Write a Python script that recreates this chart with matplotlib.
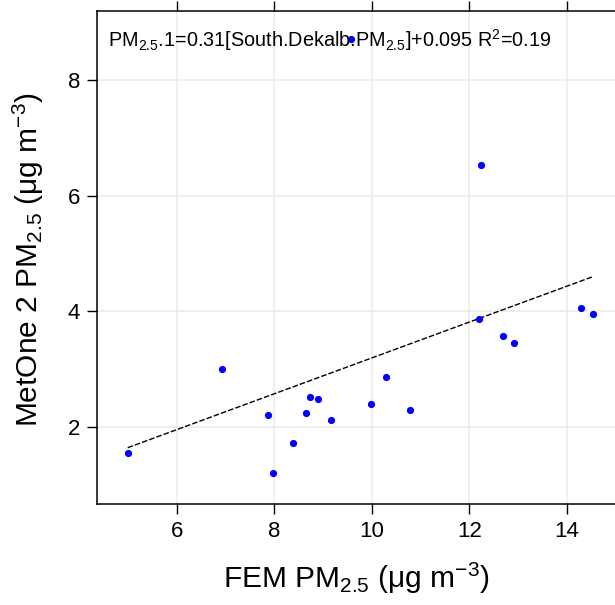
import matplotlib
matplotlib.use("Agg")
import matplotlib.pyplot as plt
import numpy as np

plt.rcParams['font.family'] = ['Liberation Sans', 'DejaVu Sans']
plt.rcParams['mathtext.fontset'] = 'custom'
plt.rcParams['mathtext.rm'] = 'Liberation Sans'
plt.rcParams['mathtext.it'] = 'Liberation Sans:italic'
plt.rcParams['mathtext.default'] = 'regular'

fem = [4.99, 6.93, 7.87, 7.98, 8.38, 8.64, 8.72, 8.90, 9.15, 9.56, 9.98, 10.28,
       10.77, 12.20, 12.23, 12.69, 12.91, 14.28, 14.54]
metone = [1.55, 3.00, 2.21, 1.21, 1.73, 2.24, 2.52, 2.48, 2.12, 8.71, 2.40, 2.86,
          2.29, 3.87, 6.53, 3.58, 3.46, 4.05, 3.96]
slope = 0.31
intercept = 0.095
r2 = 0.19
xticks = [6, 8, 10, 12, 14]
yticks = [2, 4, 6, 8]

W, H = 615, 605
fig = plt.figure(figsize=(W / 100, H / 100), dpi=100)
left_px, right_px, top_px, bottom_px = 97, 625, 11, 504
ax = fig.add_axes([left_px / W, (H - bottom_px) / H,
                   (right_px - left_px) / W, (bottom_px - top_px) / H])

ax.set_xlim(4.36, 15.19)
ax.set_ylim(0.668, 9.193)
ax.set_xticks(xticks)
ax.set_yticks(yticks)
ax.grid(True, color='#ebebeb', linewidth=1.1)
ax.set_axisbelow(True)

xs = np.array([min(fem), max(fem)])
ax.plot(xs, slope * xs + intercept, color='black', linestyle=(0, (4, 1.5)),
        linewidth=1.0, zorder=2)
ax.plot(fem, metone, 'o', color='#0000ff', markersize=5.2, markeredgewidth=0,
        zorder=3)

for s in ax.spines.values():
    s.set_linewidth(1.1)
ax.tick_params(axis='both', direction='out', length=7, width=1.0,
               labelsize=16, top=True, pad=5)

ax.set_xlabel(r'FEM PM$_{2.5}$ ($\mu$g m$^{-3}$)', fontsize=21.5, labelpad=14)
ax.set_ylabel(r'MetOne 2 PM$_{2.5}$ ($\mu$g m$^{-3}$)', fontsize=21.5, labelpad=16)
ax.xaxis.label.set_x((356 - left_px) / (right_px - left_px))
ax.yaxis.label.set_y(0.495)

ax.text(108 / W, (H - 47) / H,
        r'PM$_{2.5}$.1=%.2f[South.Dekalb.PM$_{2.5}$]+%.3f R$^{2}$=%.2f' % (slope, intercept, r2),
        transform=fig.transFigure, fontsize=14.3, va='baseline', ha='left', zorder=4)

fig.savefig('out.png', dpi=100)
